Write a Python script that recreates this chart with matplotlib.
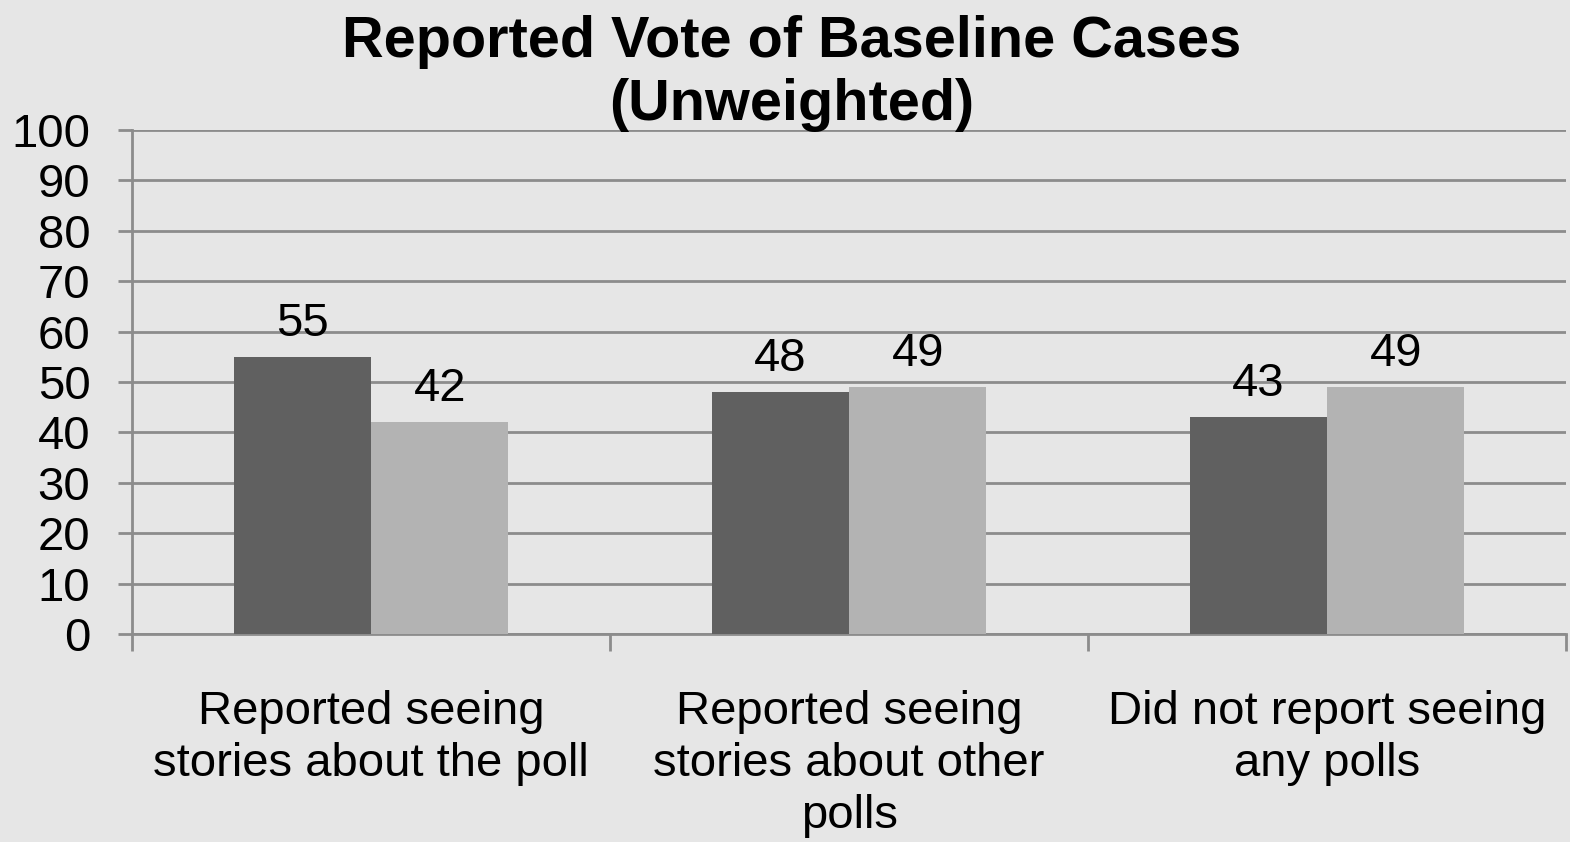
import matplotlib.pyplot as plt
import numpy as np

categories = [
    "Reported seeing\nstories about the poll",
    "Reported seeing\nstories about other\npolls",
    "Did not report seeing\nany polls",
]
series_a = [55, 48, 43]
series_b = [42, 49, 49]
yticks = list(range(0, 101, 10))

bg = "#e6e6e6"
dark = "#606060"
light = "#b3b3b3"
grid = "#8c8c8c"

plt.rcParams["font.family"] = ["Liberation Sans", "DejaVu Sans"]

fig = plt.figure(figsize=(15.7, 8.42), dpi=100, facecolor=bg)
ax = fig.add_axes([0.0841, 0.247, 0.9134, 0.5986], facecolor=bg)

x = np.arange(len(categories))
w = 0.287
ax.bar(x - w / 2, series_a, w, color=dark, zorder=3)
ax.bar(x + w / 2, series_b, w, color=light, zorder=3)

for xi, v in zip(x - w / 2, series_a):
    ax.text(xi, v + 4.2, str(v), ha="center", va="baseline", fontsize=34)
for xi, v in zip(x + w / 2, series_b):
    ax.text(xi, v + 4.2, str(v), ha="center", va="baseline", fontsize=34)

ax.set_xlim(-0.5, 2.5)
ax.set_ylim(0, 100)
ax.set_yticks(yticks)
ax.set_yticklabels([str(t) for t in yticks], fontsize=34)
ax.yaxis.grid(True, color=grid, linewidth=2, zorder=0)
ax.tick_params(axis="y", length=10, width=2, color=grid, pad=20)

ax.set_xticks([-0.5, 0.5, 1.5, 2.5])
ax.set_xticklabels([])
ax.tick_params(axis="x", length=12, width=2, color=grid)
ax.set_xticks(x, minor=True)
ax.set_xticklabels(categories, minor=True, fontsize=34, linespacing=1.24)
ax.tick_params(axis="x", which="minor", length=0, pad=40)

for s in ["top", "right"]:
    ax.spines[s].set_visible(False)
for s in ["left", "bottom"]:
    ax.spines[s].set_color(grid)
    ax.spines[s].set_linewidth(2)

fig.text(0.504, 0.982, "Reported Vote of Baseline Cases\n(Unweighted)", ha="center",
         va="top", fontsize=41.5, fontweight="bold", linespacing=1.22)

fig.savefig("out.png", dpi=100, facecolor=bg)
